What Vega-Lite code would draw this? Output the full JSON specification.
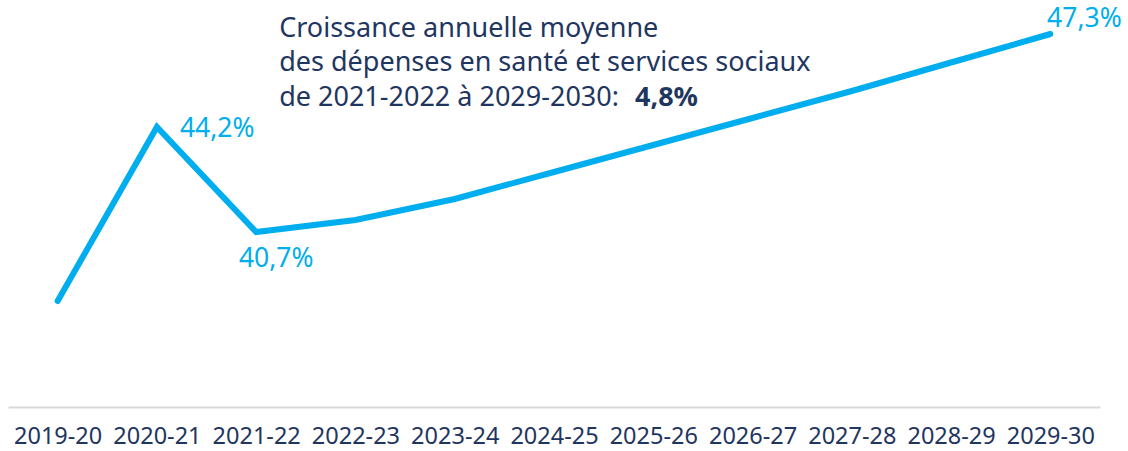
{
  "$schema": "https://vega.github.io/schema/vega-lite/v6.json",
  "autosize": {"type": "none"},
  "width": 1092,
  "height": 407,
  "padding": {"left": 8, "top": 0, "right": 28, "bottom": 44},
  "background": "white",
  "config": {"view": {"stroke": null}, "font": "Noto Sans"},
  "datasets": {
    "series": [
      {"annee": "2019-20", "part": 38.4},
      {"annee": "2020-21", "part": 44.2},
      {"annee": "2021-22", "part": 40.7},
      {"annee": "2022-23", "part": 41.1},
      {"annee": "2023-24", "part": 41.8},
      {"annee": "2024-25", "part": 42.7},
      {"annee": "2025-26", "part": 43.6},
      {"annee": "2026-27", "part": 44.5},
      {"annee": "2027-28", "part": 45.4},
      {"annee": "2028-29", "part": 46.35},
      {"annee": "2029-30", "part": 47.3}
    ],
    "notes": [
      {"annee": "2021-22", "part": 47.2, "texte": "Croissance annuelle moyenne\ndes dépenses en santé et services sociaux\nde 2021-2022 à 2029-2030:"}
    ],
    "taux": [
      {"annee": "2024-25", "part": 44.9, "texte": "4,8%"}
    ]
  },
  "encoding": {
    "x": {
      "field": "annee", "type": "ordinal",
      "scale": {"type": "point", "padding": 0.5},
      "axis": {
        "title": null, "ticks": false, "grid": false,
        "domainColor": "#D9D9D9", "domainWidth": 2,
        "labelFontSize": 23.5, "labelColor": "#1F3660", "labelPadding": 17,
        "labelAngle": 0, "labelFont": "Noto Sans"
      }
    },
    "y": {
      "field": "part", "type": "quantitative",
      "scale": {"domain": [34.867, 48.433], "nice": false, "zero": false},
      "axis": null
    }
  },
  "layer": [
    {
      "data": {"name": "series"},
      "mark": {"type": "line", "color": "#00AEEF", "strokeWidth": 6, "strokeCap": "round", "strokeJoin": "miter"}
    },
    {
      "data": {"name": "series"},
      "transform": [{"filter": "datum.annee === '2020-21'"}],
      "mark": {"type": "text", "align": "left", "baseline": "middle", "dx": 23, "dy": 2, "fontSize": 26.5, "color": "#00AEEF"},
      "encoding": {"text": {"value": "44,2%"}}
    },
    {
      "data": {"name": "series"},
      "transform": [{"filter": "datum.annee === '2021-22'"}],
      "mark": {"type": "text", "align": "center", "baseline": "middle", "dx": 20, "dy": 27, "fontSize": 26.5, "color": "#00AEEF"},
      "encoding": {"text": {"value": "40,7%"}}
    },
    {
      "data": {"name": "series"},
      "transform": [{"filter": "datum.annee === '2029-30'"}],
      "mark": {"type": "text", "align": "center", "baseline": "middle", "dx": 34, "dy": -15, "fontSize": 26.5, "color": "#00AEEF"},
      "encoding": {"text": {"value": "47,3%"}}
    },
    {
      "data": {"name": "notes"},
      "mark": {"type": "text", "align": "left", "baseline": "alphabetic", "dx": 23, "fontSize": 27, "color": "#1F3660", "lineBreak": "\n", "lineHeight": 34.5},
      "encoding": {"text": {"field": "texte"}}
    },
    {
      "data": {"name": "taux"},
      "mark": {"type": "text", "align": "left", "baseline": "alphabetic", "dx": 81, "fontSize": 27, "fontWeight": "bold", "color": "#1F3660"},
      "encoding": {"text": {"field": "texte"}}
    }
  ]
}
